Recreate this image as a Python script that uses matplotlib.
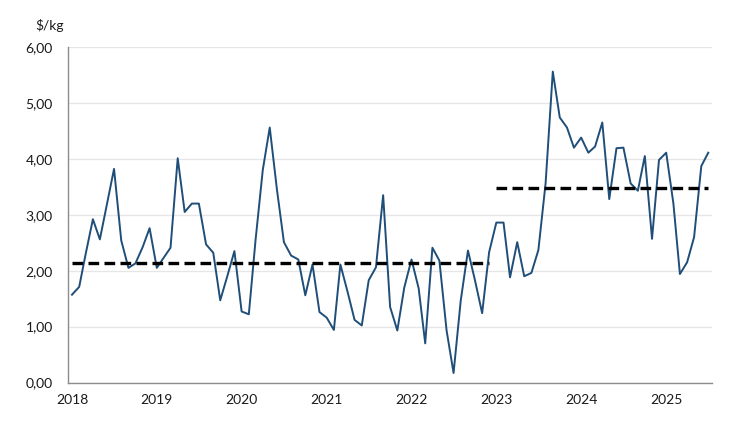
import pandas as pd
import matplotlib.pyplot as plt
import matplotlib.dates as mdates

# monthly price, Jan 2018 - Jul 2025 ($/kg)
months = pd.date_range('2018-01-01', periods=91, freq='MS')
price = [
    1.57, 1.71, 2.30, 2.92, 2.56, 3.20, 3.82, 2.54, 2.05, 2.13, 2.42, 2.76,  # 2018
    2.05, 2.24, 2.41, 4.01, 3.05, 3.20, 3.20, 2.47, 2.32, 1.47, 1.91, 2.35,  # 2019
    1.27, 1.22, 2.55, 3.80, 4.56, 3.45, 2.51, 2.27, 2.20, 1.56, 2.11, 1.26,  # 2020
    1.16, 0.94, 2.11, 1.62, 1.12, 1.02, 1.83, 2.06, 3.35, 1.35, 0.93, 1.70,  # 2021
    2.20, 1.68, 0.70, 2.41, 2.18, 0.93, 0.17, 1.47, 2.36, 1.83, 1.24, 2.33,  # 2022
    2.86, 2.86, 1.88, 2.51, 1.90, 1.96, 2.37, 3.56, 5.56, 4.74, 4.56, 4.20,  # 2023
    4.38, 4.11, 4.22, 4.65, 3.28, 4.19, 4.20, 3.56, 3.43, 4.05, 2.57, 3.98,  # 2024
    4.11, 3.20, 1.94, 2.15, 2.60, 3.87, 4.11,                                # 2025
]

# period averages (dashed lines)
avg_start = ['2018-01-01', '2023-01-01']
avg_end = ['2022-12-01', '2025-07-01']
avg_value = [2.14, 3.47]

y_ticks = [0, 1, 2, 3, 4, 5, 6]
y_labels = ['0,00', '1,00', '2,00', '3,00', '4,00', '5,00', '6,00']

plt.rcParams['font.family'] = ['Lato', 'DejaVu Sans']

fig = plt.figure(figsize=(7.5, 4.22), dpi=100)
ax = fig.add_axes([0.0907, 0.0936, 0.8583, 0.795])

ax.plot(months, price, color='#1f4e79', linewidth=1.4, zorder=3)
for s, e, v in zip(avg_start, avg_end, avg_value):
    ax.plot([pd.Timestamp(s), pd.Timestamp(e)], [v, v], color='black',
            linewidth=2.4, dashes=(3.2, 1.6), zorder=4)

ax.set_xlim(pd.Timestamp('2017-12-15'), pd.Timestamp('2025-07-16'))
ax.set_ylim(0, 6)
ax.set_yticks(y_ticks)
ax.set_yticklabels(y_labels)
ax.xaxis.set_major_locator(mdates.YearLocator())
ax.xaxis.set_major_formatter(mdates.DateFormatter('%Y'))

ax.grid(axis='y', color='#e6e6e6', linewidth=1)
ax.set_axisbelow(True)
for side in ['top', 'right']:
    ax.spines[side].set_visible(False)
for side in ['left', 'bottom']:
    ax.spines[side].set_color('#8c8c8c')
    ax.spines[side].set_linewidth(1)
ax.tick_params(axis='both', length=0, labelsize=10, colors='#1a1a1a')
ax.tick_params(axis='y', pad=11)
ax.tick_params(axis='x', pad=8)

fig.text(0.066, 0.94, '$/kg', fontsize=10, color='#1a1a1a', ha='center', va='center')

fig.savefig('out.png', dpi=100)
